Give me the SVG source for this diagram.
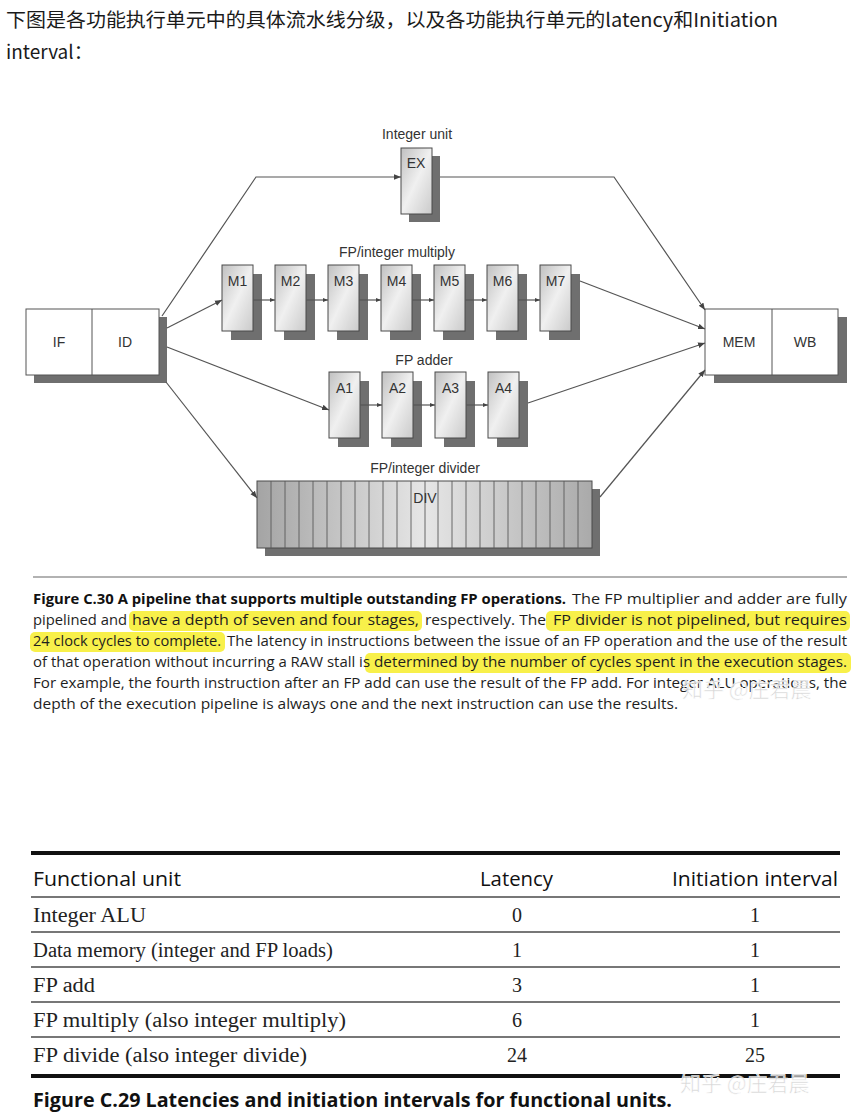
<svg xmlns="http://www.w3.org/2000/svg" width="856" height="1117" viewBox="0 0 856 1117">
<defs>
<style>
.title{font-family:"Noto Sans CJK SC","Noto Sans",sans-serif;font-size:19px;fill:#1a1a1a}
.bl{font-family:"Liberation Sans",Arial,sans-serif;font-size:14px;fill:#333;text-anchor:middle}
.box{fill:url(#gb);stroke:#4a4a4a;stroke-width:1}
.sh{fill:#6f6f6f}
.wb{fill:#fff;stroke:#555;stroke-width:1}
.con{fill:none;stroke:#555;stroke-width:1.2}
.cap{font-family:"Open Sans","Liberation Sans",sans-serif;font-size:15px;fill:#1e1e1e}
.capb{font-family:"Open Sans","Liberation Sans",sans-serif;font-size:15px;fill:#111;font-weight:bold}
.hl{fill:#f8f04a}
.th{font-family:"Open Sans","Liberation Sans",sans-serif;font-size:20px;fill:#111}
.td{font-family:"Liberation Serif","Times New Roman",serif;font-size:20px;fill:#222}
.tv{font-family:"Liberation Serif","Times New Roman",serif;font-size:20px;fill:#222;text-anchor:middle}
.wm{font-family:"Noto Sans CJK SC",sans-serif;font-size:21px;fill:#cfcfcf;fill-opacity:0.85;stroke:#fff;stroke-width:0.6}
</style>
<linearGradient id="gb" x1="0" y1="0" x2="1" y2="1">
<stop offset="0" stop-color="#c0c0c0"/>
<stop offset="0.5" stop-color="#f0f0f0"/>
<stop offset="1" stop-color="#cacaca"/>
</linearGradient>
<linearGradient id="gd" x1="0" y1="0" x2="1" y2="0">
<stop offset="0" stop-color="#a4a4a4"/>
<stop offset="0.5" stop-color="#e6e6e6"/>
<stop offset="1" stop-color="#aaaaaa"/>
</linearGradient>
<marker id="ah" viewBox="0 0 10 10" refX="10" refY="5" markerWidth="7" markerHeight="7" orient="auto" markerUnits="userSpaceOnUse">
<path d="M0,1 L10,5 L0,9 z" fill="#444"/>
</marker>
<marker id="as" viewBox="0 0 10 10" refX="10" refY="5" markerWidth="5" markerHeight="5" orient="auto" markerUnits="userSpaceOnUse">
<path d="M0,1 L10,5 L0,9 z" fill="#444"/>
</marker>
</defs>
<rect width="856" height="1117" fill="#fff"/>

<g id="intro">
<text class="title" x="6" y="27" textLength="772" lengthAdjust="spacingAndGlyphs">下图是各功能执行单元中的具体流水线分级，以及各功能执行单元的latency和Initiation</text>
<text class="title" x="6" y="59">interval：</text>
</g>

<g id="node-ifid">
<rect class="sh" x="34" y="317" width="133" height="66"/>
<rect class="wb" x="26" y="309" width="133" height="66"/>
<line x1="92" y1="309" x2="92" y2="375" stroke="#555" stroke-width="1"/>
<text class="bl" x="59" y="347">IF</text>
<text class="bl" x="125" y="347">ID</text>
</g>

<g id="node-memwb">
<rect class="sh" x="714" y="317" width="133" height="66"/>
<rect class="wb" x="705" y="309" width="133" height="66"/>
<line x1="772" y1="309" x2="772" y2="375" stroke="#555" stroke-width="1"/>
<text class="bl" x="739" y="347">MEM</text>
<text class="bl" x="805" y="347">WB</text>
</g>

<g id="node-ex">
<text class="bl" x="417" y="139">Integer unit</text>
<rect class="sh" x="409" y="156" width="31" height="66"/>
<rect class="box" x="401" y="148" width="31" height="66"/>
<text class="bl" x="416" y="168">EX</text>
</g>

<g id="node-mul">
<text class="bl" x="397" y="257">FP/integer multiply</text>
<g id="m1"><rect class="sh" x="231" y="274" width="31" height="66"/><rect class="box" x="222" y="265" width="31" height="66"/><text class="bl" x="237.5" y="286">M1</text></g>
<g id="m2"><rect class="sh" x="284" y="274" width="31" height="66"/><rect class="box" x="275" y="265" width="31" height="66"/><text class="bl" x="290.5" y="286">M2</text></g>
<g id="m3"><rect class="sh" x="337" y="274" width="31" height="66"/><rect class="box" x="328" y="265" width="31" height="66"/><text class="bl" x="343.5" y="286">M3</text></g>
<g id="m4"><rect class="sh" x="390" y="274" width="31" height="66"/><rect class="box" x="381" y="265" width="31" height="66"/><text class="bl" x="396.5" y="286">M4</text></g>
<g id="m5"><rect class="sh" x="443" y="274" width="31" height="66"/><rect class="box" x="434" y="265" width="31" height="66"/><text class="bl" x="449.5" y="286">M5</text></g>
<g id="m6"><rect class="sh" x="496" y="274" width="31" height="66"/><rect class="box" x="487" y="265" width="31" height="66"/><text class="bl" x="502.5" y="286">M6</text></g>
<g id="m7"><rect class="sh" x="549" y="274" width="31" height="66"/><rect class="box" x="540" y="265" width="31" height="66"/><text class="bl" x="555.5" y="286">M7</text></g>
</g>

<g id="node-add">
<text class="bl" x="424" y="365">FP adder</text>
<g id="a1"><rect class="sh" x="338" y="381" width="31" height="66"/><rect class="box" x="329" y="372" width="31" height="66"/><text class="bl" x="344.5" y="393">A1</text></g>
<g id="a2"><rect class="sh" x="391" y="381" width="31" height="66"/><rect class="box" x="382" y="372" width="31" height="66"/><text class="bl" x="397.5" y="393">A2</text></g>
<g id="a3"><rect class="sh" x="444" y="381" width="31" height="66"/><rect class="box" x="435" y="372" width="31" height="66"/><text class="bl" x="450.5" y="393">A3</text></g>
<g id="a4"><rect class="sh" x="497" y="381" width="31" height="66"/><rect class="box" x="488" y="372" width="31" height="66"/><text class="bl" x="503.5" y="393">A4</text></g>
</g>

<g id="node-div">
<text class="bl" x="425" y="473">FP/integer divider</text>
<rect class="sh" x="265" y="489" width="335" height="67"/>
<rect x="257" y="481" width="335" height="67" fill="url(#gd)" stroke="#4a4a4a" stroke-width="1"/>
<g stroke="#5a5a5a" stroke-width="0.9">
<line x1="271" y1="481" x2="271" y2="548"/><line x1="285" y1="481" x2="285" y2="548"/><line x1="299" y1="481" x2="299" y2="548"/><line x1="313" y1="481" x2="313" y2="548"/><line x1="327" y1="481" x2="327" y2="548"/><line x1="341" y1="481" x2="341" y2="548"/><line x1="355" y1="481" x2="355" y2="548"/><line x1="369" y1="481" x2="369" y2="548"/><line x1="383" y1="481" x2="383" y2="548"/><line x1="397" y1="481" x2="397" y2="548"/><line x1="411" y1="481" x2="411" y2="548"/><line x1="425" y1="481" x2="425" y2="548"/><line x1="438" y1="481" x2="438" y2="548"/><line x1="452" y1="481" x2="452" y2="548"/><line x1="466" y1="481" x2="466" y2="548"/><line x1="480" y1="481" x2="480" y2="548"/><line x1="494" y1="481" x2="494" y2="548"/><line x1="508" y1="481" x2="508" y2="548"/><line x1="522" y1="481" x2="522" y2="548"/><line x1="536" y1="481" x2="536" y2="548"/><line x1="550" y1="481" x2="550" y2="548"/><line x1="564" y1="481" x2="564" y2="548"/><line x1="578" y1="481" x2="578" y2="548"/>
</g>
<text class="bl" x="425" y="503">DIV</text>
</g>

<g id="connectors">
<polyline class="con" points="162,316 256,177 401,177" marker-end="url(#ah)"/>
<polyline class="con" points="440,177 614,177 705,310" marker-end="url(#ah)"/>
<line class="con" x1="167" y1="328" x2="222" y2="300" marker-end="url(#ah)"/>
<line class="con" x1="253" y1="300" x2="275" y2="300" marker-end="url(#as)"/>
<line class="con" x1="306" y1="300" x2="328" y2="300" marker-end="url(#as)"/>
<line class="con" x1="359" y1="300" x2="381" y2="300" marker-end="url(#as)"/>
<line class="con" x1="412" y1="300" x2="434" y2="300" marker-end="url(#as)"/>
<line class="con" x1="465" y1="300" x2="487" y2="300" marker-end="url(#as)"/>
<line class="con" x1="518" y1="300" x2="540" y2="300" marker-end="url(#as)"/>
<line class="con" x1="580" y1="281" x2="705" y2="329" marker-end="url(#ah)"/>
<line class="con" x1="167" y1="347" x2="329" y2="410" marker-end="url(#ah)"/>
<line class="con" x1="360" y1="405" x2="382" y2="405" marker-end="url(#as)"/>
<line class="con" x1="413" y1="405" x2="435" y2="405" marker-end="url(#as)"/>
<line class="con" x1="466" y1="405" x2="488" y2="405" marker-end="url(#as)"/>
<line class="con" x1="528" y1="403" x2="705" y2="343" marker-end="url(#ah)"/>
<line class="con" x1="166" y1="382" x2="257" y2="498" marker-end="url(#ah)"/>
<line class="con" x1="600" y1="497" x2="705" y2="370" marker-end="url(#ah)"/>
</g>

<g id="caption30">
<line x1="33" y1="577" x2="847" y2="577" stroke="#999" stroke-width="1.5"/>
<rect class="hl" x="129" y="611" width="293" height="20" rx="5"/>
<rect class="hl" x="546" y="611" width="304" height="20" rx="5"/>
<rect class="hl" x="30" y="632" width="195" height="20" rx="5"/>
<rect class="hl" x="365" y="653" width="486" height="20" rx="5"/>
<text class="capb" x="33" y="604" textLength="533" lengthAdjust="spacingAndGlyphs">Figure C.30  A pipeline that supports multiple outstanding FP operations.</text>
<text class="cap" x="572" y="604" textLength="275" lengthAdjust="spacingAndGlyphs">The FP multiplier and adder are fully</text>
<text class="cap" x="33" y="625" textLength="94" lengthAdjust="spacingAndGlyphs">pipelined and</text>
<text class="cap" x="132" y="625" textLength="287" lengthAdjust="spacingAndGlyphs">have a depth of seven and four stages,</text>
<text class="cap" x="425" y="625" textLength="121" lengthAdjust="spacingAndGlyphs">respectively. The</text>
<text class="cap" x="553" y="625" textLength="294" lengthAdjust="spacingAndGlyphs">FP divider is not pipelined, but requires</text>
<text class="cap" x="33" y="646" textLength="188" lengthAdjust="spacingAndGlyphs">24 clock cycles to complete.</text>
<text class="cap" x="227" y="646" textLength="620" lengthAdjust="spacingAndGlyphs">The latency in instructions between the issue of an FP operation and the use of the result</text>
<text class="cap" x="33" y="667" textLength="337" lengthAdjust="spacingAndGlyphs">of that operation without incurring a RAW stall is</text>
<text class="cap" x="374" y="667" textLength="473" lengthAdjust="spacingAndGlyphs">determined by the number of cycles spent in the execution stages.</text>
<text class="cap" x="33" y="688" textLength="814" lengthAdjust="spacingAndGlyphs">For example, the fourth instruction after an FP add can use the result of the FP add. For integer ALU operations, the</text>
<text class="cap" x="33" y="709" textLength="645" lengthAdjust="spacingAndGlyphs">depth of the execution pipeline is always one and the next instruction can use the results.</text>
<text class="wm" x="682" y="697">知乎 @庄君晨</text>
</g>

<g id="table29">
<line x1="31" y1="853" x2="840" y2="853" stroke="#111" stroke-width="4"/>
<text class="th" x="33" y="886" textLength="148" lengthAdjust="spacingAndGlyphs">Functional unit</text>
<text class="th" x="480" y="886" textLength="73" lengthAdjust="spacingAndGlyphs">Latency</text>
<text class="th" x="672" y="886" textLength="166" lengthAdjust="spacingAndGlyphs">Initiation interval</text>
<g stroke="#777" stroke-width="2">
<line x1="31" y1="897" x2="840" y2="897"/>
<line x1="31" y1="932" x2="840" y2="932"/>
<line x1="31" y1="967" x2="840" y2="967"/>
<line x1="31" y1="1002" x2="840" y2="1002"/>
<line x1="31" y1="1037" x2="840" y2="1037"/>
</g>
<text class="td" x="33" y="922" textLength="113" lengthAdjust="spacingAndGlyphs">Integer ALU</text>
<text class="tv" x="517" y="922">0</text><text class="tv" x="755" y="922">1</text>
<text class="td" x="33" y="957" textLength="300" lengthAdjust="spacingAndGlyphs">Data memory (integer and FP loads)</text>
<text class="tv" x="517" y="957">1</text><text class="tv" x="755" y="957">1</text>
<text class="td" x="33" y="992" textLength="62" lengthAdjust="spacingAndGlyphs">FP add</text>
<text class="tv" x="517" y="992">3</text><text class="tv" x="755" y="992">1</text>
<text class="td" x="33" y="1027" textLength="313" lengthAdjust="spacingAndGlyphs">FP multiply (also integer multiply)</text>
<text class="tv" x="517" y="1027">6</text><text class="tv" x="755" y="1027">1</text>
<text class="td" x="33" y="1062" textLength="274" lengthAdjust="spacingAndGlyphs">FP divide (also integer divide)</text>
<text class="tv" x="517" y="1062">24</text><text class="tv" x="755" y="1062">25</text>
<line x1="31" y1="1076" x2="840" y2="1076" stroke="#111" stroke-width="4"/>
<text class="th" x="33" y="1107" textLength="639" lengthAdjust="spacingAndGlyphs" font-weight="bold">Figure C.29  Latencies and initiation intervals for functional units.</text>
<text class="wm" x="680" y="1091">知乎 @庄君晨</text>
</g>
</svg>
